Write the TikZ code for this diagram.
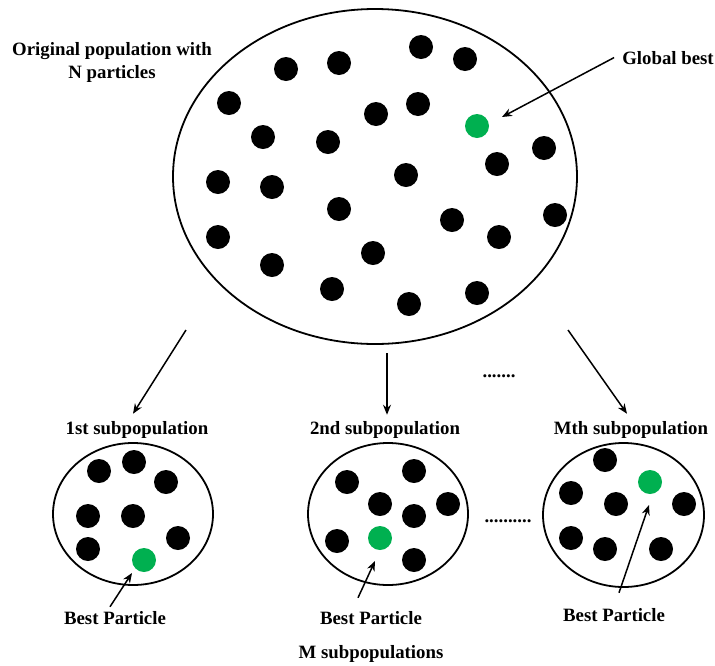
\documentclass[tikz,border=0pt]{standalone}
\usepackage{fontspec}
\setmainfont{Liberation Serif}
\usepackage{xcolor}
\usepackage{tikz}
\usetikzlibrary{positioning,arrows.meta,shapes.geometric}
\definecolor{bestgreen}{HTML}{00B050}

\begin{document}
\begin{tikzpicture}[x=1pt, y=-1pt, every node/.style={font=\fontsize{18.8}{23}\selectfont\bfseries,inner sep=0pt}, pop/.style={ellipse,draw,line width=1.8pt}, particle/.style={circle,fill=black,minimum size=24pt}, best/.style={circle,fill=bestgreen,minimum size=24pt}, flow/.style={-{Stealth[length=10pt,width=8pt]},line width=1.5pt}]
\useasboundingbox (0,0) rectangle (715,665);
% original population
\node[pop,minimum width=404pt,minimum height=335pt] (orig) at (375,176.5) {};
\foreach \x/\y [count=\i] in {421/47,465/59,286/69,339/63,229/103,418/104,376/114,263/137,328/142,544/148,497/164,218/182,272/187,406/175,339/209,555/215,452/220,218/237,499/237,373/253,272/265,332/289,477/293,409/304}
  \node[particle] (p\i) at (\x,\y) {};
\node[best] (gbest) at (477,126) {};
\node[anchor=north,align=center] (origlabel) at (112,42) {Original population with\\N particles};
\node[anchor=base] (gblabel) at (668,64) {Global best};
\draw[flow] ([xshift=-8pt]gblabel.west) -- ([xshift=25pt,yshift=9pt]gbest.center);
% subpopulations
\node[pop,minimum width=160pt,minimum height=142pt] (sub1) at (133,514) {};
\node[pop,minimum width=160pt,minimum height=142pt] (sub2) at (388,514) {};
\node[pop,minimum width=161pt,minimum height=144pt] (subM) at (623.5,515) {};
\foreach \x/\y [count=\i] in {99/471,134/462,166/482,88/516,133/516,178/538,88/549}
  \node[particle] (a\i) at (\x,\y) {};
\foreach \x/\y [count=\i] in {347/482,414/471,380/504,448/504,414/516,337/541,414/560}
  \node[particle] (b\i) at (\x,\y) {};
\foreach \x/\y [count=\i] in {605/460,571/493,616/504,684/504,571/538,605/549,661/549}
  \node[particle] (m\i) at (\x,\y) {};
\node[best] (g1) at (144,560) {};
\node[best] (g2) at (380,538) {};
\node[best] (g3) at (650,482) {};
\node[anchor=base] (sub1label) at (137,434) {1st subpopulation};
\node[anchor=base] (sub2label) at (385,434) {2nd subpopulation};
\node[anchor=base] (subMlabel) at (631,434) {Mth subpopulation};
\node[anchor=base] (gap1) at (499,377) {.......};
\node[anchor=base] (gap2) at (508,522) {..........};
\coordinate (split1) at (186,330);
\coordinate (split2) at (387,353);
\coordinate (splitM) at (568,330);
\draw[flow] (split1) -- ([xshift=-4pt,yshift=7pt]sub1label.north);
\draw[flow] (split2) -- ([xshift=2pt,yshift=6pt]sub2label.north);
\draw[flow] (splitM) -- ([xshift=-4pt,yshift=7pt]subMlabel.north);
% best particles
\node[anchor=base] (bp1) at (115,624) {Best Particle};
\node[anchor=base] (bp2) at (371,624) {Best Particle};
\node[anchor=base] (bp3) at (614,621) {Best Particle};
\draw[flow] ([xshift=-5pt,yshift=4pt]bp1.north) -- ([xshift=-12pt,yshift=-13pt]g1.center);
\draw[flow] ([xshift=-13pt,yshift=13pt]bp2.north) -- ([xshift=-5pt,yshift=-23pt]g2.center);
\draw[flow] ([xshift=5pt,yshift=15pt]bp3.north) -- ([xshift=-1pt,yshift=-23pt]g3.center);
\node[anchor=base] (mlabel) at (371,658) {M subpopulations};
\end{tikzpicture}
\end{document}
